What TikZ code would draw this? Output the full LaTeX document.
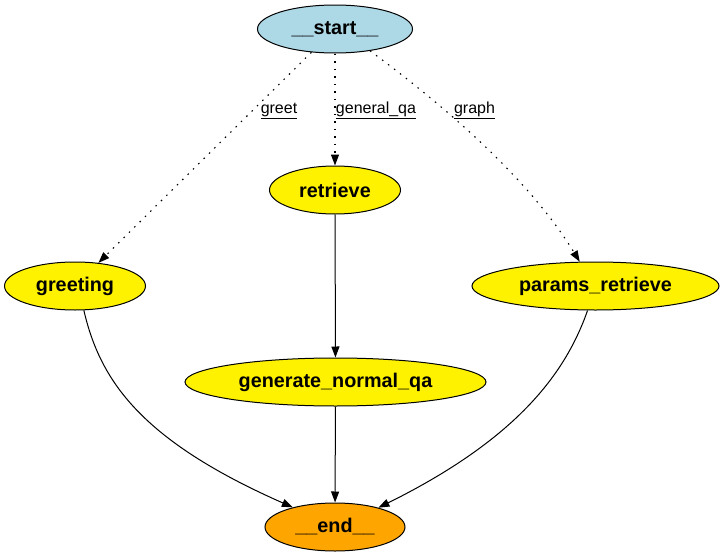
\documentclass[tikz,border=0pt]{standalone}
\usepackage{fontspec}
\setmainfont{Liberation Sans}
\usetikzlibrary{arrows.meta,shapes.geometric}
\begin{document}
\begin{tikzpicture}[x=1pt,y=-1pt,
  nodebox/.style={draw=black,line width=1pt,ellipse,inner sep=0pt,minimum height=48pt,
    font=\fontsize{19.8}{22}\selectfont\bfseries},
  edge/.style={line width=1pt,-{Triangle[length=11pt,width=8pt]}},
  dotedge/.style={edge,line width=1.1pt,dash pattern=on 1.5pt off 6pt},
  elabel/.style={font=\fontsize{16}{19}\selectfont,inner sep=0pt}]
\useasboundingbox (0,0) rectangle (724,557);
\node[nodebox,fill={rgb,255:red,173;green,216;blue,230},minimum width=155pt] (start) at (335,29) {\_\_start\_\_};
\node[nodebox,fill=yellow,minimum width=131pt] (retrieve) at (335,190) {retrieve};
\node[nodebox,fill=yellow,minimum width=141pt] (greeting) at (75,286) {greeting};
\node[nodebox,fill=yellow,minimum width=247pt] (params) at (595.5,286) {params\_retrieve};
\node[nodebox,fill=yellow,minimum width=301pt] (gen) at (335.5,382) {generate\_normal\_qa};
\node[nodebox,fill={rgb,255:red,255;green,165;blue,0},minimum width=140pt] (end) at (335,527) {\_\_end\_\_};

\draw[dotedge] (start) -- (greeting);
\draw[dotedge] (start) -- (retrieve);
\draw[dotedge] (start.-32) .. controls (430,95) and (525,172) .. (params.123);
\node[elabel] (lgreet) at (279,110.5) {\underline{greet}};
\node[elabel] (lqa) at (376,110.5) {\underline{general\_qa}};
\node[elabel] (lgraph) at (474.5,110.5) {\underline{graph}};

\draw[edge] (retrieve) -- (gen);
\draw[edge] (gen) -- (end);
\draw[edge] (greeting.-70) .. controls (100,380) and (140,440) .. (end.155);
\draw[edge] (params.-108) .. controls (565,375) and (515,440) .. (end.24);
\end{tikzpicture}
\end{document}
